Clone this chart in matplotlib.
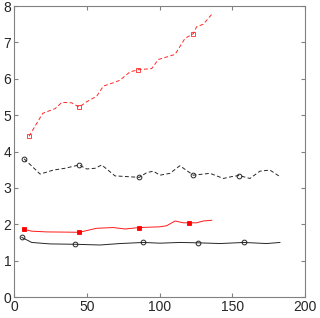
import matplotlib
matplotlib.use("Agg")
import matplotlib.pyplot as plt

plt.rcParams['font.family'] = ['Liberation Sans', 'DejaVu Sans']

# Red dashed series (open squares)
rd_x = [10.3, 19.7, 28.2, 32.8, 39.6, 44.7, 50.0, 56.8, 61.4, 68.2, 72.8, 79.7, 85.4,
        94.6, 99.2, 110.7, 117.5, 123.2, 125.5, 130.1, 135.9]
rd_y = [4.42, 5.05, 5.18, 5.35, 5.34, 5.22, 5.37, 5.52, 5.80, 5.89, 5.96, 6.19, 6.25,
        6.28, 6.53, 6.67, 7.11, 7.24, 7.43, 7.50, 7.77]
rd_marks = [0, 5, 12, 17]

# Black dashed series (open circles)
kd_x = [6.9, 17.9, 27.0, 35.0, 44.7, 50.0, 55.7, 60.3, 69.4, 86.1, 91.2, 95.7, 100.3,
        107.2, 114.0, 123.2, 134.7, 143.9, 149.6, 154.6, 162.2, 169.0, 175.9, 182.8]
kd_y = [3.80, 3.38, 3.49, 3.54, 3.63, 3.52, 3.54, 3.63, 3.33, 3.29, 3.42, 3.46, 3.35,
        3.40, 3.61, 3.35, 3.40, 3.26, 3.31, 3.34, 3.26, 3.46, 3.49, 3.31]
kd_marks = [0, 4, 9, 15, 19]

# Red solid series (filled squares)
rs_x = [7.1, 12.1, 22.5, 44.9, 56.8, 68.2, 76.3, 85.9, 100.3, 104.9, 110.7, 116.4,
        120.5, 125.5, 130.1, 135.9]
rs_y = [1.86, 1.81, 1.79, 1.78, 1.89, 1.91, 1.87, 1.91, 1.93, 1.96, 2.09, 2.04,
        2.04, 2.04, 2.09, 2.11]
rs_marks = [0, 3, 7, 12]

# Black solid series (open circles)
ks_x = [5.3, 12.1, 24.7, 41.9, 59.1, 72.8, 88.9, 100.3, 114.0, 126.6, 141.6, 158.0,
        173.6, 182.8]
ks_y = [1.64, 1.50, 1.46, 1.45, 1.43, 1.47, 1.50, 1.48, 1.50, 1.49, 1.47, 1.50,
        1.47, 1.50]
ks_marks = [0, 3, 6, 9, 11]

x_ticks = [0, 50, 100, 150, 200]
y_ticks = [0, 1, 2, 3, 4, 5, 6, 7, 8]

fig = plt.figure(figsize=(3.2, 3.18), dpi=100)
ax = fig.add_axes([0.044, 0.066, 0.909, 0.915])

ax.plot(rd_x, rd_y, color='#ff2828', ls=(0, (4, 2.5)), lw=0.7, marker='s', ms=3.2,
        mfc='none', mec='#ff2828', mew=0.6, markevery=rd_marks)
ax.plot(kd_x, kd_y, color='#262626', ls=(0, (4, 2.5)), lw=0.7, marker='o', ms=3.4,
        mfc='none', mec='#262626', mew=0.7, markevery=kd_marks)
ax.plot(rs_x, rs_y, color='#ff1a1a', ls='-', lw=0.7, marker='s', ms=3.2,
        mfc='#ff0000', mec='#ff0000', mew=0.6, markevery=rs_marks)
ax.plot(ks_x, ks_y, color='#262626', ls='-', lw=0.7, marker='o', ms=3.4,
        mfc='none', mec='#262626', mew=0.7, markevery=ks_marks)

ax.set_xlim(0, 200)
ax.set_ylim(0, 8)
ax.set_xticks(x_ticks)
ax.set_yticks(y_ticks)
for s in ax.spines.values():
    s.set_color('#808080')
    s.set_linewidth(0.8)
ax.tick_params(direction='in', top=True, right=True, length=3, width=0.8,
               color='#808080', labelsize=10, labelcolor='#262626', pad=2)

fig.savefig('out.png', dpi=100)
